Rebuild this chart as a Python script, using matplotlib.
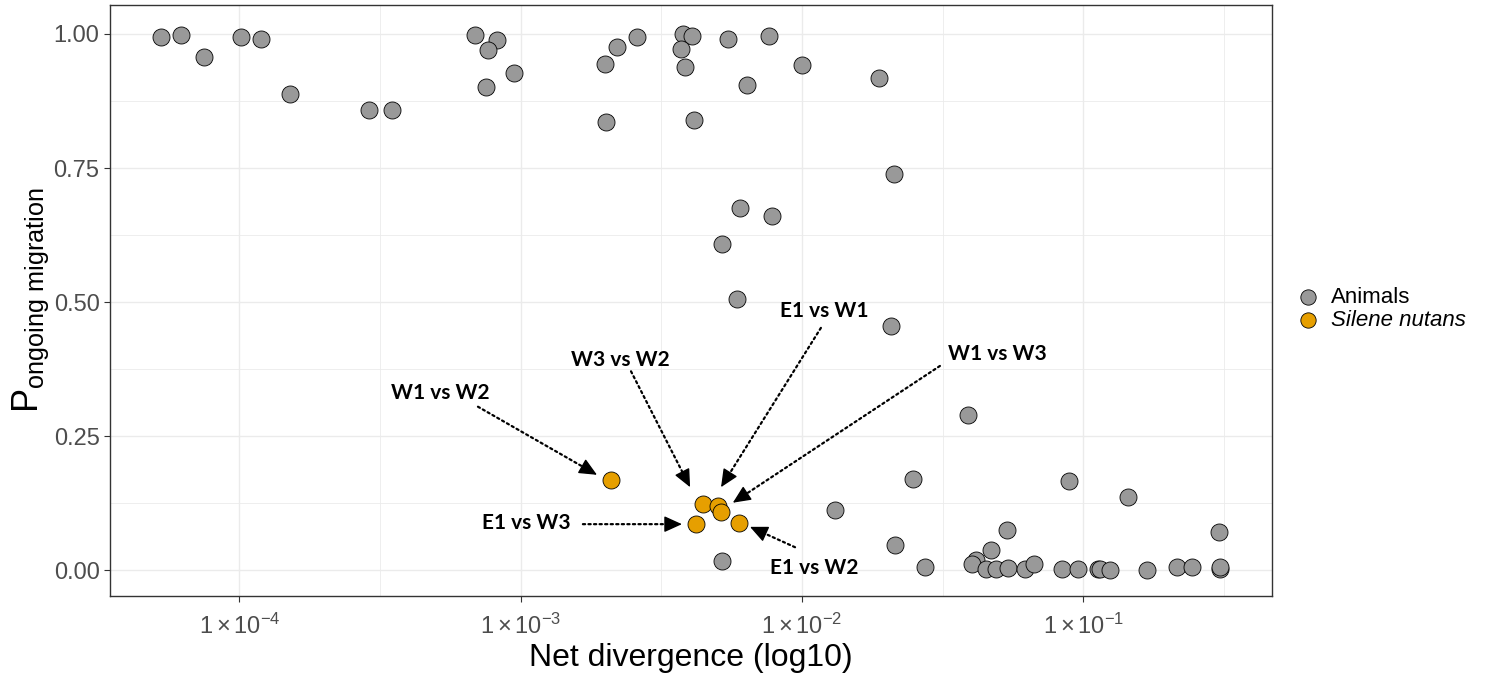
import numpy as np
import matplotlib
matplotlib.use("Agg")
import matplotlib.pyplot as plt
from matplotlib.ticker import FixedLocator, NullFormatter

plt.rcParams['font.family'] = ['Liberation Sans', 'DejaVu Sans']
plt.rcParams['mathtext.fontset'] = 'custom'
plt.rcParams['mathtext.rm'] = 'Liberation Sans'
plt.rcParams['mathtext.it'] = 'Liberation Sans:italic'

# animals: net divergence and P(ongoing migration)
animal_div = [5.28e-5, 6.18e-5, 7.48e-5, 1.01e-4, 1.19e-4, 1.51e-4, 2.89e-4, 3.48e-4,
              6.87e-4, 8.26e-4, 7.62e-4, 9.46e-4, 7.50e-4, 2.00e-3, 2.19e-3, 2.59e-3,
              2.01e-3, 3.78e-3, 4.06e-3, 3.72e-3, 3.85e-3, 4.14e-3, 5.46e-3, 6.38e-3,
              7.64e-3, 1.00e-2, 1.87e-2, 2.12e-2, 6.01e-3, 7.83e-3, 5.20e-3, 5.87e-3,
              2.07e-2, 5.20e-3, 3.90e-2, 2.48e-2, 1.31e-2, 8.89e-2, 0.1435, 0.303,
              2.14e-2, 5.37e-2, 4.70e-2, 2.74e-2, 4.14e-2, 4.02e-2, 4.52e-2, 4.90e-2,
              5.41e-2, 6.18e-2, 6.68e-2, 8.41e-2, 9.57e-2, 0.113, 0.115, 0.1245,
              0.1687, 0.2148, 0.2438, 0.307, 0.305]
animal_p = [0.994, 0.999, 0.957, 0.995, 0.990, 0.889, 0.858, 0.858,
            0.999, 0.988, 0.971, 0.927, 0.902, 0.944, 0.976, 0.994,
            0.836, 1.000, 0.997, 0.972, 0.938, 0.840, 0.990, 0.904,
            0.997, 0.942, 0.918, 0.739, 0.676, 0.661, 0.609, 0.505,
            0.456, 0.018, 0.290, 0.171, 0.113, 0.167, 0.137, 0.072,
            0.047, 0.076, 0.037, 0.007, 0.019, 0.011, 0.002, 0.002,
            0.004, 0.002, 0.011, 0.002, 0.002, 0.002, 0.002, 0.000,
            0.000, 0.007, 0.007, 0.002, 0.006]

# Silene nutans comparisons
silene_pairs = ['W1 vs W2', 'W3 vs W2', 'E1 vs W1', 'W1 vs W3', 'E1 vs W3', 'E1 vs W2']
silene_div = [2.09e-3, 4.44e-3, 5.02e-3, 5.14e-3, 4.20e-3, 5.98e-3]
silene_p = [0.169, 0.124, 0.119, 0.108, 0.086, 0.089]

# label text position, arrow tail, arrow tip (log10 x, y)
label_pos = [(-3.287, 0.330), (-2.647, 0.392), (-1.922, 0.483), (-1.307, 0.403), (-2.981, 0.088), (-1.957, 0.004)]
arrow_tail = [(-3.152, 0.305), (-2.608, 0.371), (-1.933, 0.452), (-1.510, 0.381), (-2.779, 0.086), (-2.025, 0.043)]
arrow_tip = [(-2.729, 0.178), (-2.398, 0.155), (-2.288, 0.155), (-2.246, 0.126), (-2.427, 0.086), (-2.185, 0.081)]

xticks = [1e-4, 1e-3, 1e-2, 1e-1]
xticklabels = [r'$\mathregular{1\times10^{-4}}$', r'$\mathregular{1\times10^{-3}}$',
               r'$\mathregular{1\times10^{-2}}$', r'$\mathregular{1\times10^{-1}}$']
yticks = [0, 0.25, 0.5, 0.75, 1.0]

fig = plt.figure(figsize=(14.86, 6.77), dpi=100)
ax = fig.add_axes([0.074, 0.1196, 0.782, 0.873])

ax.scatter(animal_div, animal_p, s=150, c='#999999', edgecolors='black', linewidths=0.6,
           zorder=3, label='Animals')
ax.scatter(silene_div, silene_p, s=150, c='#E69F00', edgecolors='black', linewidths=0.6,
           zorder=3, label='Silene nutans')

ax.set_xscale('log')
ax.set_xlim(10 ** -4.46, 10 ** -0.3296)
ax.set_ylim(-0.048, 1.054)

head_px = 16
for lab, tp, tl, tip in zip(silene_pairs, label_pos, arrow_tail, arrow_tip):
    ax.text(10 ** tp[0], tp[1], lab, fontsize=15, fontweight='bold', family=['Lato', 'DejaVu Sans'],
            ha='center', va='center', zorder=4)
    p0 = ax.transData.transform((10 ** tl[0], tl[1]))
    p1 = ax.transData.transform((10 ** tip[0], tip[1]))
    d = (p1 - p0) / np.hypot(*(p1 - p0))
    base = ax.transData.inverted().transform(p1 - d * head_px)
    # dotted shaft
    ax.annotate('', xy=base, xytext=(10 ** tl[0], tl[1]),
                arrowprops=dict(arrowstyle='-', color='black', linestyle=(0, (1, 1.5)),
                                linewidth=1.6, shrinkA=0, shrinkB=0), zorder=4)
    # solid head
    ax.annotate('', xy=(10 ** tip[0], tip[1]), xytext=base,
                arrowprops=dict(arrowstyle='-|>,head_length=1.1,head_width=0.5', color='black',
                                linewidth=1.0, shrinkA=0, shrinkB=0), zorder=4)

ax.xaxis.set_major_locator(FixedLocator(xticks))
ax.set_xticklabels(xticklabels)
ax.xaxis.set_minor_locator(FixedLocator([10 ** -3.5, 10 ** -2.5, 10 ** -1.5, 10 ** -0.5]))
ax.xaxis.set_minor_formatter(NullFormatter())
ax.set_yticks(yticks)
ax.set_yticklabels(['0.00', '0.25', '0.50', '0.75', '1.00'])
ax.yaxis.set_minor_locator(FixedLocator([0.125, 0.375, 0.625, 0.875]))

ax.tick_params(which='major', length=4, width=0.8, color='#333333', labelsize=17, labelcolor='#4D4D4D')
ax.tick_params(axis='x', which='major', pad=9)
ax.tick_params(which='minor', length=0)
ax.grid(which='major', color='#EBEBEB', linewidth=1.0, zorder=0)
ax.grid(which='minor', color='#EBEBEB', linewidth=0.6, zorder=0)
ax.set_axisbelow(True)
for sp in ax.spines.values():
    sp.set_color('#333333')
    sp.set_linewidth(1.0)

ax.set_xlabel('Net divergence (log10)', fontsize=23, labelpad=3)
ax.set_ylabel(r'$\mathregular{P_{ongoing\ migration}}$', fontsize=26, labelpad=2)

leg = ax.legend(loc='center left', bbox_to_anchor=(1.004, 0.486), frameon=False, fontsize=16,
                handletextpad=0.05, labelspacing=0.1, borderaxespad=0, markerscale=0.9)
leg.get_texts()[1].set_fontstyle('italic')

fig.savefig('out.png', dpi=100)
